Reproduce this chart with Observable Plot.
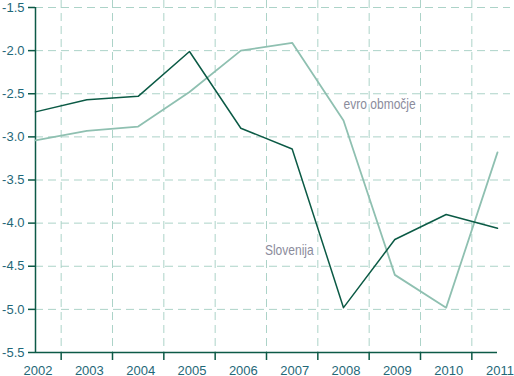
<!DOCTYPE html>
<html>
<head>
<meta charset="utf-8">
<script src="https://cdn.jsdelivr.net/npm/d3@7"></script>
<script src="https://cdn.jsdelivr.net/npm/@observablehq/plot@0.6"></script>
<style>
  html, body { margin: 0; padding: 0; background: #fff; }
  #chart svg { display: block; }
</style>
</head>
<body>
<div id="chart"></div>
<script>
const years = [2002, 2003, 2004, 2005, 2006, 2007, 2008, 2009, 2010, 2011];
const slovenija = [-2.71, -2.57, -2.53, -2.01, -2.90, -3.14, -4.98, -4.19, -3.90, -4.06];
const evro = [-3.04, -2.93, -2.88, -2.48, -2.00, -1.91, -2.81, -4.60, -4.98, -3.18];
const yTicks = [-5.5, -5.0, -4.5, -4.0, -3.5, -3.0, -2.5, -2.0, -1.5];
const gridX = [2002.5, 2003.5, 2004.5, 2005.5, 2006.5, 2007.5, 2008.5, 2009.5, 2010.5];
const seriesNames = ["Slovenija", "evro območje"];

const slo = years.map((y, i) => ({year: y, value: slovenija[i]}));
const ea = years.map((y, i) => ({year: y, value: evro[i]}));

const gridColor = "#acd3c8";
const axisColor = "#0d5a47";
const labelColor = "#1f6878";
const darkLine = "#0b5a45";
const lightLine = "#8fc0b1";
const noteColor = "#8b8c9c";
const narrow = "'Liberation Sans Narrow', 'Arial Narrow', 'Liberation Sans', Arial, sans-serif";

const chart = Plot.plot({
  width: 514,
  height: 376,
  marginLeft: 35,
  marginRight: 4,
  marginTop: 0,
  marginBottom: 24,
  style: {fontFamily: "'Liberation Sans', Arial, sans-serif", fontSize: "13px", background: "#fff"},
  x: {domain: [2002, 2011], range: [35, 497]},
  y: {domain: [-5.5, -1.5], range: [352, 7]},
  marks: [
    Plot.ruleY(yTicks.slice(1), {stroke: gridColor, strokeDasharray: "8,5"}),
    Plot.ruleX(gridX, {stroke: gridColor, strokeDasharray: "8,5"}),
    Plot.ruleY([-5.5], {x1: 2002, x2: 2011, stroke: axisColor, strokeWidth: 1.5}),
    Plot.ruleX([2002], {y1: -5.5, y2: -1.5, stroke: axisColor, strokeWidth: 1.5}),
    Plot.axisX(gridX, {tickSize: 8, tickFormat: () => "", stroke: axisColor, strokeWidth: 1.5, label: null}),
    Plot.axisX(years, {tickSize: 0, tickPadding: 13, tickFormat: d => String(d), fill: labelColor, dx: 2.5, label: null}),
    Plot.axisY(yTicks, {tickSize: 7, tickPadding: 4, tickFormat: d => d.toFixed(1), stroke: axisColor, strokeWidth: 1.5, fill: labelColor, label: null}),
    Plot.line(ea, {x: "year", y: "value", stroke: lightLine, strokeWidth: 1.8}),
    Plot.line(slo, {x: "year", y: "value", stroke: darkLine, strokeWidth: 1.5}),
    Plot.text([seriesNames[1]], {x: 2008, y: -2.625, text: d => d, textAnchor: "start", fill: noteColor, stroke: "white", strokeWidth: 3, fontSize: 14, fontFamily: narrow, className: "note"}),
    Plot.text([seriesNames[0]], {x: 2007.42, y: -4.32, text: d => d, textAnchor: "end", fill: noteColor, stroke: "white", strokeWidth: 3, fontSize: 14, fontFamily: narrow, className: "note"})
  ]
});
// condensed look for annotation labels (no narrow font installed)
d3.select(chart).selectAll(".note text").each(function () {
  const t = this.getAttribute("transform") || "";
  this.setAttribute("transform", t + " scale(0.86,1)");
});
document.getElementById("chart").appendChild(chart);
</script>
</body>
</html>
